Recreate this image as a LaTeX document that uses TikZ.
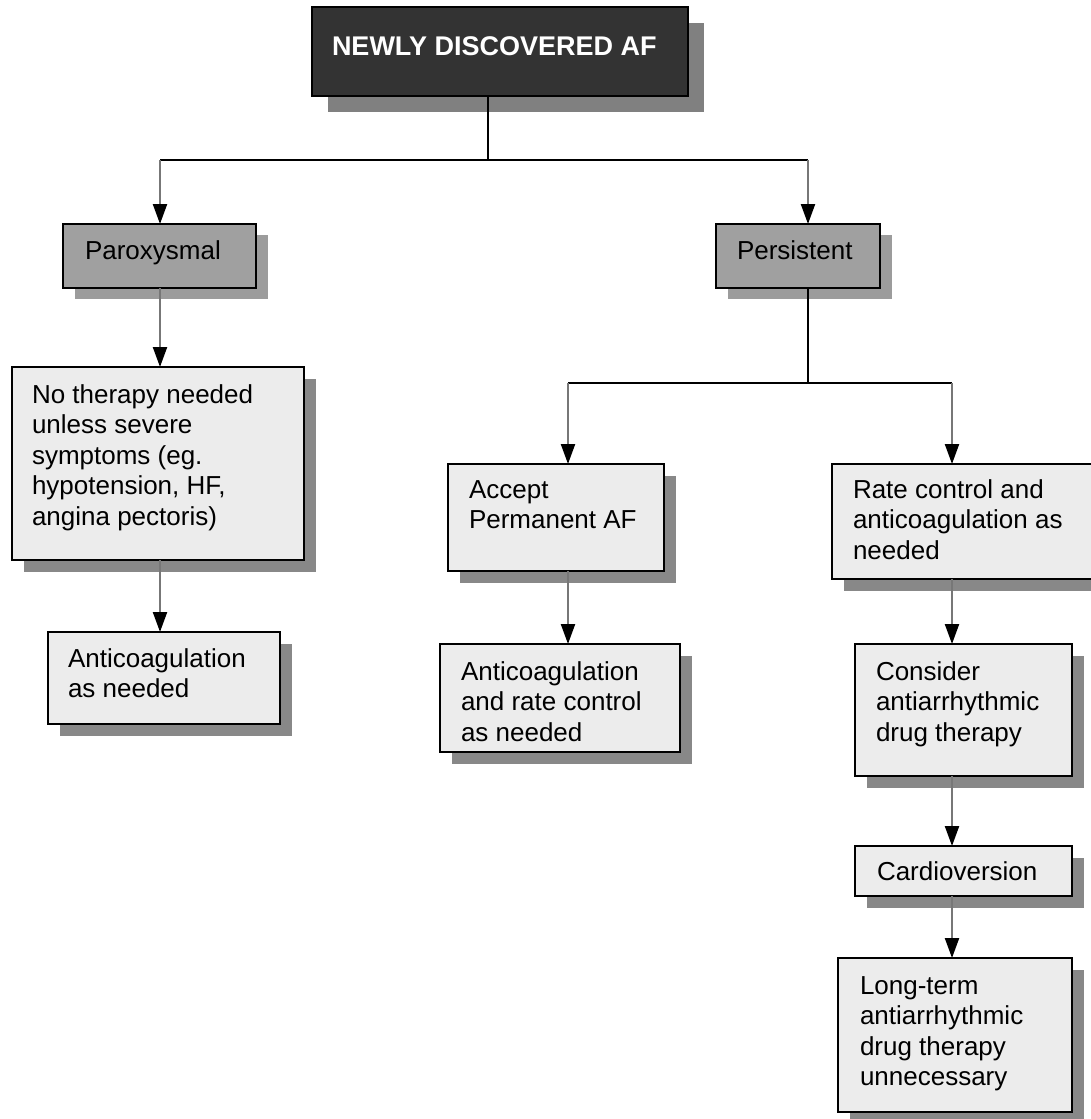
\documentclass[tikz,border=0pt]{standalone}
\usepackage{fontspec}
\setmainfont{Liberation Sans}
\usetikzlibrary{arrows.meta,shadows}
\definecolor{darkfill}{HTML}{333333}
\definecolor{midfill}{HTML}{A0A0A0}
\definecolor{midshade}{HTML}{9C9C9C}
\definecolor{lightfill}{HTML}{ECECEC}
\definecolor{shadegray}{HTML}{888888}
\definecolor{topshade}{HTML}{808080}
\definecolor{linegray}{HTML}{777777}
\newcommand{\boxlines}[1]{\parbox[t]{400pt}{#1}}
\begin{document}
\begin{tikzpicture}[x=1pt,y=-1pt,
  basebox/.style={rectangle, draw=black, line width=2pt, inner sep=0pt, outer sep=0pt},
  darkbox/.style={basebox, fill=darkfill, drop shadow={shadow xshift=16pt, shadow yshift=-16pt, fill=topshade, opacity=1}},
  midbox/.style={basebox, fill=midfill, drop shadow={shadow xshift=11.5pt, shadow yshift=-11pt, fill=midshade, opacity=1}},
  lightbox/.style={basebox, fill=lightfill, drop shadow={shadow xshift=11.5pt, shadow yshift=-11.5pt, fill=shadegray, opacity=1}},
  txt/.style={inner sep=0pt, outer sep=0pt, anchor=base west, font=\fontsize{26pt}{30.5pt}\selectfont},
  titletxt/.style={inner sep=0pt, outer sep=0pt, anchor=base west, text=white, font=\fontsize{27pt}{31pt}\selectfont\bfseries},
  blk/.style={draw=black, line width=2.2pt},
  arr/.style={draw=linegray, line width=2.2pt, -{Triangle[width=14pt,length=20pt,color=black]}}
]
\useasboundingbox (0,0) rectangle (1091,1119);
\fill[white] (0,0) rectangle (1091,1119);
\clip (0,0) rectangle (1091,1119);

% boxes
\node[darkbox, minimum width=376pt, minimum height=89pt] (topbox) at (500,51.5) {};
\node[midbox, minimum width=193pt, minimum height=64pt] (parox) at (159.5,256) {};
\node[midbox, minimum width=164pt, minimum height=64pt] (persist) at (798,256) {};
\node[lightbox, minimum width=292pt, minimum height=193pt] (notherapy) at (158,463.5) {};
\node[lightbox, minimum width=232pt, minimum height=92pt] (anticoagL) at (164,678) {};
\node[lightbox, minimum width=216pt, minimum height=107pt] (accept) at (556,517.5) {};
\node[lightbox, minimum width=240pt, minimum height=108pt] (anticoagM) at (560,698) {};
\node[lightbox, minimum width=278pt, minimum height=115pt] (rate) at (971,521.5) {};
\node[lightbox, minimum width=217pt, minimum height=132pt] (consider) at (963.5,710) {};
\node[lightbox, minimum width=217pt, minimum height=50pt] (cardio) at (963.5,871) {};
\node[lightbox, minimum width=234pt, minimum height=154pt] (longterm) at (955,1035) {};

% texts
\node[titletxt] (t-top) at (332,55) {NEWLY DISCOVERED AF};
\node[txt] (t-parox) at (85,259) {Paroxysmal};
\node[txt] (t-persist) at (737,259) {Persistent};
\node[txt] (t-notherapy) at (32,403) {\boxlines{No therapy needed\\unless severe\\symptoms (eg.\\hypotension, HF,\\angina pectoris)}};
\node[txt] (t-anticoagL) at (68,667) {\boxlines{Anticoagulation\\as needed}};
\node[txt] (t-accept) at (469,498) {\boxlines{Accept\\Permanent AF}};
\node[txt] (t-anticoagM) at (461,680) {\boxlines{Anticoagulation\\and rate control\\as needed}};
\node[txt] (t-rate) at (853,498) {\boxlines{Rate control and\\anticoagulation as\\needed}};
\node[txt] (t-consider) at (876,680) {\boxlines{Consider\\antiarrhythmic\\drug therapy}};
\node[txt] (t-cardio) at (877,880) {Cardioversion};
\node[txt] (t-longterm) at (860,994) {\boxlines{Long-term\\antiarrhythmic\\drug therapy\\unnecessary}};

% connectors
\coordinate (jtop) at (488,160);
\coordinate (jl) at (160,160);
\coordinate (jr) at (808,160);
\coordinate (jp) at (808,383);
\coordinate (jpl) at (568,383);
\coordinate (jpr) at (952,383);

\draw[blk] (jtop |- topbox.south) -- (jtop);
\draw[blk] (jl) -- (jr);
\draw[arr] (jl) -- (jl |- parox.north);
\draw[arr] (jr) -- (jr |- persist.north);
\draw[arr] (jl |- parox.south) -- (jl |- notherapy.north);
\draw[arr] (jl |- notherapy.south) -- (jl |- anticoagL.north);

\draw[blk] (jp |- persist.south) -- (jp);
\draw[blk] (jpl) -- (jpr);
\draw[arr] (jpl) -- (jpl |- accept.north);
\draw[arr] (jpr) -- (jpr |- rate.north);
\draw[arr] (jpl |- accept.south) -- (jpl |- anticoagM.north);
\draw[arr] (jpr |- rate.south) -- (jpr |- consider.north);
\draw[arr] (jpr |- consider.south) -- (jpr |- cardio.north);
\draw[arr] (jpr |- cardio.south) -- (jpr |- longterm.north);
\end{tikzpicture}
\end{document}
